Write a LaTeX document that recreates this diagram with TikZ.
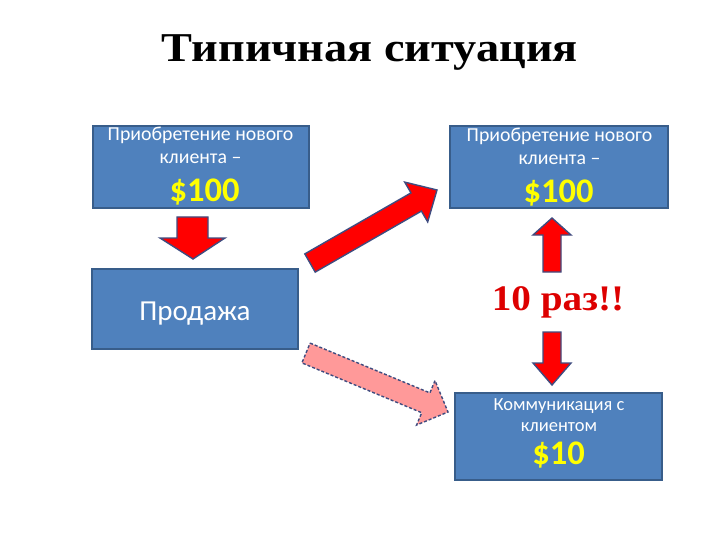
\documentclass[tikz,border=0pt]{standalone}
\usepackage{fontspec}
\setmainfont{Carlito}
\newfontfamily\titlefont{Liberation Serif}
\definecolor{boxfill}{HTML}{4F81BD}
\definecolor{boxline}{HTML}{385D8A}
\definecolor{arrowline}{HTML}{3F4C80}
\definecolor{pinkfill}{HTML}{FF9999}
\definecolor{dollar}{HTML}{FFFF00}
\definecolor{timesred}{HTML}{DD0000}
\tikzset{
  bluebox/.style={draw=boxline, fill=boxfill, line width=1.5pt, inner sep=0pt},
  boxtext/.style={anchor=base, text=white, inner sep=0pt, font=\fontsize{19.8}{22}\selectfont},
  smalltext/.style={anchor=base, text=white, inner sep=0pt, font=\fontsize{18.5}{21}\selectfont},
  money/.style={anchor=base, text=dollar, inner sep=0pt, font=\bfseries\fontsize{34.5}{38}\selectfont},
  redarrow/.style={draw=arrowline, fill=red, line width=1.4pt, line join=miter},
  pinkarrow/.style={draw=arrowline, fill=pinkfill, line width=1.4pt, dash pattern=on 3pt off 2pt, line join=miter}
}
\begin{document}
\begin{tikzpicture}[x=1pt,y=-1pt]
\useasboundingbox[fill=white] (0,0) rectangle (720,540);
% title
\node[anchor=base, inner sep=0pt, font=\titlefont\bfseries\fontsize{41}{44}\selectfont] (title) at (370,62) {\scalebox{1.13}[1]{Типичная ситуация}};
% boxes
\node[bluebox, minimum width=216pt, minimum height=82pt] (b1) at (201,167) {};
\node[bluebox, minimum width=218pt, minimum height=82pt] (b2) at (559,167) {};
\node[bluebox, minimum width=206pt, minimum height=80pt] (b3) at (195,309) {};
\node[bluebox, minimum width=207pt, minimum height=87pt] (b4) at (558.5,436.5) {};
% box texts
\node[boxtext] (t1a) at (200.5,140.5) {Приобретение нового};
\node[boxtext] (t1b) at (200.5,164) {клиента –};
\node[money] (t1c) at (204.5,202) {\$100};
\node[boxtext] (t2a) at (559.5,142) {Приобретение нового};
\node[boxtext] (t2b) at (559.5,165) {клиента –};
\node[money] (t2c) at (558.5,203) {\$100};
\node[anchor=base, text=white, inner sep=0pt, font=\fontsize{29}{32}\selectfont] (t3) at (195,320) {Продажа};
\node[smalltext] (t4a) at (559,410) {Коммуникация с};
\node[smalltext] (t4b) at (559,431) {клиентом};
\node[money] (t4c) at (558.5,464) {\$10};
\node[anchor=base, inner sep=0pt, text=timesred, font=\titlefont\bfseries\fontsize{36}{40}\selectfont] (times) at (558,310) {\scalebox{1.09}[1]{10 раз!!}};
% block arrows
\draw[redarrow] (177,217) -- (208,217) -- (208,238) -- (225,238) -- (193,259) -- (160,238) -- (177,238) -- cycle;
\draw[redarrow] (543,272) -- (561,272) -- (561,235) -- (571,235) -- (552,218) -- (533,235) -- (543,235) -- cycle;
\draw[redarrow] (543,332) -- (561,332) -- (561,363) -- (571,363) -- (552,385) -- (533,363) -- (543,363) -- cycle;
\draw[redarrow] (304.8,253.9) -- (411.0,192.9) -- (404.7,182.1) -- (437,190) -- (427.7,221.9) -- (421.4,211.1) -- (315.2,272.1) -- cycle;
\draw[pinkarrow] (310.1,343.1) -- (429.9,392.9) -- (435.0,380.6) -- (448,412) -- (416.6,425.0) -- (421.7,412.7) -- (301.9,362.9) -- cycle;
\end{tikzpicture}
\end{document}
